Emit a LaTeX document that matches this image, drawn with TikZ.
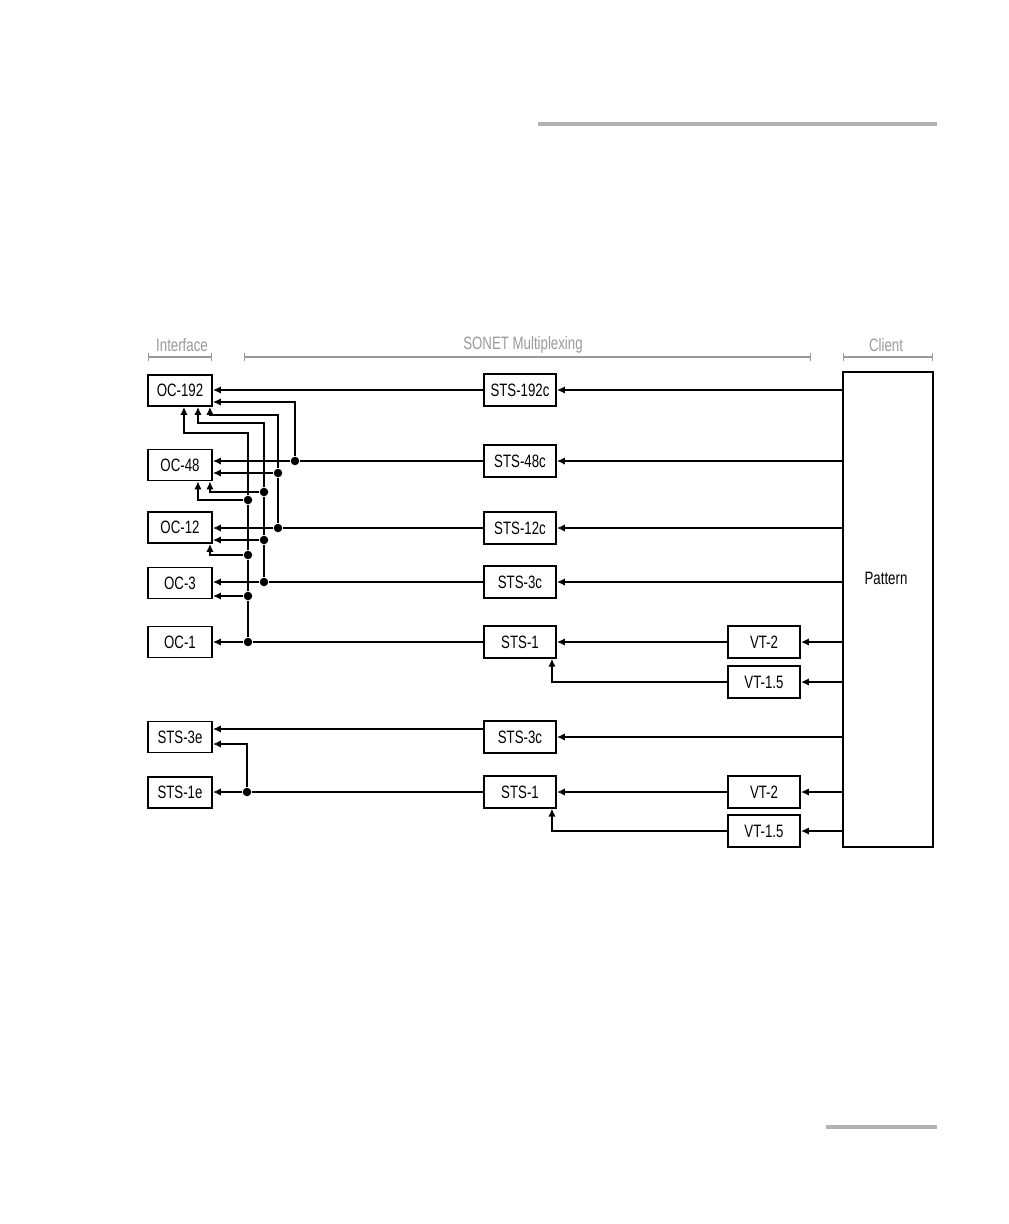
\documentclass[tikz,border=0pt]{standalone}
\usepackage{fontspec}
\setmainfont{Liberation Sans}[FakeStretch=0.74]
\usetikzlibrary{arrows.meta}

\begin{document}
\begin{tikzpicture}[
        x=0.02cm, y=-0.02cm,
        font=\fontsize{10.2}{12}\selectfont,
        blk/.style={draw, line width=1.1pt, inner sep=0pt},
        ocbox/.style={blk, minimum width=1.28cm, minimum height=0.62cm},
        stsbox/.style={blk, minimum width=1.44cm, minimum height=0.63cm},
        sig/.style={-{Latex[length=4.5pt,width=4.2pt]}, line width=0.8pt},
        bsig/.style={sig, line width=1.6pt},
        jdot/.style={circle, fill, inner sep=0pt, minimum size=0.17cm},
        hdr/.style={text=black!40},
        brk/.style={black!40, line width=0.7pt, {Bar[width=4pt]}-{Bar[width=4pt]}},
        deco/.style={black!30, line width=2.3pt}
    ]
    \useasboundingbox (0,0) rectangle (1008,1224);

    % ==========================================
    % PAGE RULES
    % ==========================================
    \draw[deco] (538,124) -- (937,124);
    \draw[deco] (826,1127) -- (937,1127);

    % ==========================================
    % HEADINGS
    % ==========================================
    \node[hdr] (hif) at (182,345) {Interface};
    \node[hdr] (hmux) at (523,345) {SONET Multiplexing};
    \node[hdr] (hcl) at (886,345) {Client};
    \draw[brk] (148,357) -- (212,357);
    \draw[brk] (244,357) -- (811,357);
    \draw[brk] (843,357) -- (933,357);

    % ==========================================
    % INTERFACE BOXES
    % ==========================================
    \node[ocbox] (oc192) at (180,390.5) {OC-192};
    \node[ocbox] (oc48) at (180,465) {OC-48};
    \node[ocbox] (oc12) at (180,527.5) {OC-12};
    \node[ocbox] (oc3) at (180,583) {OC-3};
    \node[ocbox] (oc1) at (180,642) {OC-1};
    \node[ocbox] (sts3e) at (180,737) {STS-3e};
    \node[ocbox] (sts1e) at (180,792.5) {STS-1e};

    % ==========================================
    % MULTIPLEXING BOXES
    % ==========================================
    \node[stsbox] (sts192c) at (520,390) {STS-192c};
    \node[stsbox] (sts48c) at (520,461) {STS-48c};
    \node[stsbox] (sts12c) at (520,528) {STS-12c};
    \node[stsbox] (sts3c) at (520,582) {STS-3c};
    \node[stsbox] (sts1) at (520,642) {STS-1};
    \node[stsbox] (sts3cb) at (520,737) {STS-3c};
    \node[stsbox] (sts1b) at (520,792) {STS-1};

    \node[stsbox] (vt2) at (764,642) {VT-2};
    \node[stsbox] (vt15) at (764,682) {VT-1.5};
    \node[stsbox] (vt2b) at (764,792) {VT-2};
    \node[stsbox] (vt15b) at (764,831) {VT-1.5};

    % Client
    \node[blk, minimum width=1.8cm, minimum height=9.5cm] (pattern) at (888,609.5) {};
    \node (patlbl) at (886,578) {Pattern};

    % ==========================================
    % JUNCTIONS AND PORTS
    % ==========================================
    \node[jdot] (j48) at (295,461) {};
    \node[jdot] (j12a) at (278,473) {};
    \node[jdot] (j12) at (278,528) {};
    \node[jdot] (j3a) at (264,492) {};
    \node[jdot] (j3b) at (264,540) {};
    \node[jdot] (j3) at (264,582) {};
    \node[jdot] (j1a) at (248,500) {};
    \node[jdot] (j1b) at (248,555) {};
    \node[jdot] (j1c) at (248,596) {};
    \node[jdot] (j1) at (248,642) {};
    \node[jdot] (je) at (247,792) {};

    \coordinate (c48) at (295,402);
    \coordinate (c12) at (278,415);
    \coordinate (c3) at (264,423);
    \coordinate (c1) at (248,433);

    \coordinate (oc192in1) at ([xshift=-0.58cm]oc192.south east);
    \coordinate (oc192in2) at ([xshift=-0.30cm]oc192.south east);
    \coordinate (oc192in3) at ([xshift=-0.06cm]oc192.south east);
    \coordinate (oc48in1) at ([xshift=-0.30cm]oc48.south east);
    \coordinate (oc48in2) at ([xshift=-0.06cm]oc48.south east);
    \coordinate (oc12in) at ([xshift=-0.06cm]oc12.south east);
    \coordinate (sts1in) at ([xshift=-0.1cm]sts1.south east);
    \coordinate (sts1bin) at ([xshift=-0.1cm]sts1b.south east);
    \coordinate (o3e) at ([yshift=0.16cm]sts3cb.west);
    \coordinate (i3e) at ([yshift=-0.14cm]sts3e.east);

    % ==========================================
    % CLIENT -> MULTIPLEXING
    % ==========================================
    \draw[bsig] (pattern.west |- sts192c) -- (sts192c);
    \draw[sig] (pattern.west |- sts48c) -- (sts48c);
    \draw[bsig] (pattern.west |- sts12c) -- (sts12c);
    \draw[sig] (pattern.west |- sts3c) -- (sts3c);
    \draw[bsig] (pattern.west |- vt2) -- (vt2);
    \draw[bsig] (pattern.west |- vt15) -- (vt15);
    \draw[sig] (pattern.west |- sts3cb) -- (sts3cb);
    \draw[bsig] (pattern.west |- vt2b) -- (vt2b);
    \draw[bsig] (pattern.west |- vt15b) -- (vt15b);

    \draw[sig] (vt2) -- (sts1);
    \draw[bsig] (vt15) -| (sts1in);
    \draw[bsig] (vt2b) -- (sts1b);
    \draw[sig] (vt15b) -| (sts1bin);

    % ==========================================
    % MULTIPLEXING -> INTERFACE
    % ==========================================
    \draw[bsig] (sts192c.west) -- (sts192c.west -| oc192.east);
    \draw[sig] (sts48c.west) -- (j48) -- (j48 -| oc48.east);
    \draw[bsig] (sts12c.west) -- (j12) -- (j12 -| oc12.east);
    \draw[sig] (sts3c.west) -- (j3) -- (j3 -| oc3.east);
    \draw[sig] (sts1.west) -- (j1) -- (j1 -| oc1.east);

    % STS-48c bus
    \draw[sig] (j48) |- (oc192.east |- c48);
    % STS-12c bus
    \draw[sig] (j12) -- (j12a) -- (c12) -| (oc192in3);
    \draw[sig] (j12a) -- (j12a -| oc48.east);
    % STS-3c bus
    \draw[sig] (j3) -- (j3b) -- (j3a) -- (c3) -| (oc192in2);
    \draw[sig] (j3b) -- (j3b -| oc12.east);
    \draw[sig] (j3a) -| (oc48in2);
    % STS-1 bus
    \draw[sig] (j1) -- (j1c) -- (j1b) -- (j1a) -- (c1) -| (oc192in1);
    \draw[sig] (j1a) -| (oc48in1);
    \draw[sig] (j1b) -| (oc12in);
    \draw[bsig] (j1c) -- (j1c -| oc3.east);

    % electrical
    \draw[bsig] (o3e) -- (o3e -| sts3e.east);
    \draw[bsig] (sts1b.west) -- (je) -- (je -| sts1e.east);
    \draw[bsig] (je) |- (i3e);

\end{tikzpicture}
\end{document}
